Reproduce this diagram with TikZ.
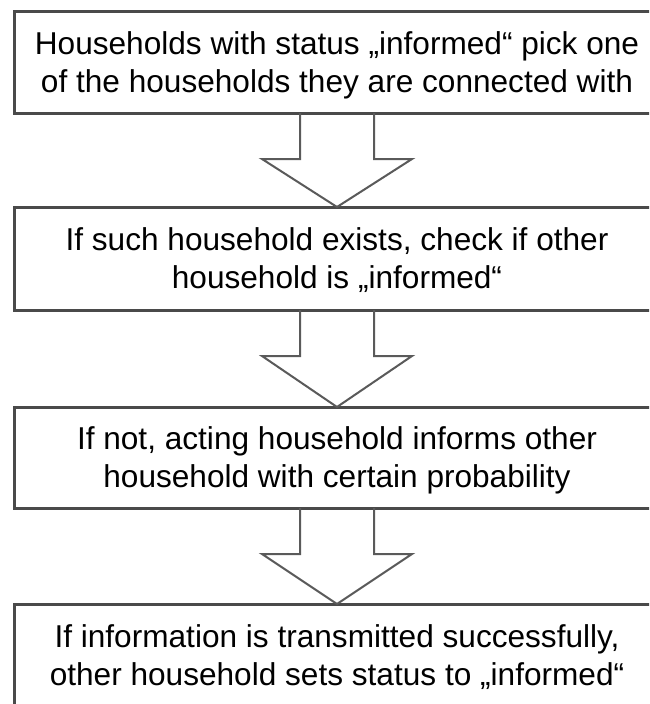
\documentclass[tikz,border=0pt]{standalone}
\usepackage{fontspec}
\setmainfont{Liberation Sans}
\usetikzlibrary{calc}
\definecolor{boxgray}{HTML}{4A4A4A}
\definecolor{arrgray}{HTML}{5A5A5A}
\newcommand{\lnstrut}{\rule[-8pt]{0pt}{38pt}}
\begin{document}
\begin{tikzpicture}[x=1pt,y=-1pt,
  flowbox/.style={draw=boxgray, line width=3pt, minimum width=646pt,
    inner sep=0pt, outer sep=0pt, align=center, text=black,
    font=\fontsize{31.6}{38}\selectfont},
  flowarrow/.style={draw=arrgray, line width=2pt, line join=miter}]
\fill[white] (0,0) rectangle (649,704);
\clip (0,0) rectangle (649,704);
\node[flowbox, minimum height=102pt] (b1) at (337,62)
  {Households with status „informed“ pick one\lnstrut\\of the households they are connected with\lnstrut};
\node[flowbox, minimum height=103pt] (b2) at (337,258.5)
  {If such household exists, check if other\lnstrut\\household is „informed“\lnstrut};
\node[flowbox, minimum height=101pt] (b3) at (337,457.5)
  {If not, acting household informs other\lnstrut\\household with certain probability\lnstrut};
\node[flowbox, minimum height=102pt] (b4) at (337,655)
  {If information is transmitted successfully,\lnstrut\\other household sets status to „informed“\lnstrut};
\foreach \a/\b in {b1/b2, b2/b3, b3/b4}{
  \draw[flowarrow] ($(\a.south)+(-37,0)$) -- ++(0,46) -- ++(-38,0)
    -- (\b.north) -- ($(\a.south)+(75,46)$) -- ++(-38,0)
    -- ($(\a.south)+(37,0)$);
}
\end{tikzpicture}
\end{document}
